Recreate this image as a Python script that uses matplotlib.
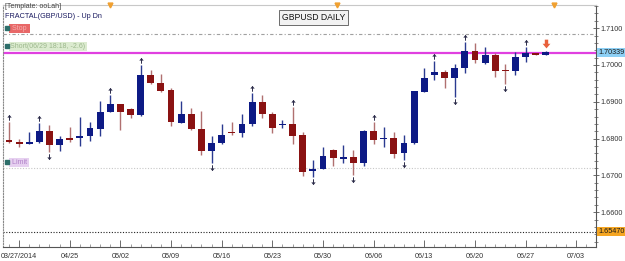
import numpy as np
import matplotlib.pyplot as plt
import matplotlib.transforms as mtransforms
from matplotlib.path import Path
from matplotlib.ticker import MultipleLocator, FixedLocator

# daily GBP/USD candles
opens = [1.6796, 1.6792, 1.6785, 1.6790, 1.6821, 1.6783, 1.6802, 1.6802, 1.6807, 1.6826,
         1.6872, 1.6893, 1.6880, 1.6864, 1.6973, 1.6950, 1.6932, 1.6843, 1.6867, 1.6825,
         1.6767, 1.6787, 1.6817, 1.6814, 1.6839, 1.6899, 1.6867, 1.6837, 1.6840, 1.6810,
         1.6711, 1.6717, 1.6769, 1.6745, 1.6749, 1.6735, 1.6821, 1.6800, 1.6801, 1.6760,
         1.6787, 1.6927, 1.6972, 1.6982, 1.6964, 1.6991, 1.7038, 1.7005, 1.7027, 1.6985,
         1.6984, 1.7023, 1.7032, 1.7027]
highs = [1.6846, 1.6799, 1.6819, 1.6842, 1.6837, 1.6807, 1.6832, 1.6858, 1.6846, 1.6903,
         1.6918, 1.6895, 1.6884, 1.7000, 1.6986, 1.6976, 1.6937, 1.6903, 1.6882, 1.6875,
         1.6807, 1.6840, 1.6844, 1.6866, 1.6923, 1.6918, 1.6873, 1.6851, 1.6887, 1.6819,
         1.6742, 1.6778, 1.6771, 1.6783, 1.6769, 1.6823, 1.6846, 1.6831, 1.6817, 1.6810,
         1.6930, 1.6991, 1.7012, 1.6986, 1.7003, 1.7063, 1.7059, 1.7050, 1.7032, 1.7003,
         1.7036, 1.7050, 1.7033, 1.7037]
lows = [1.6789, 1.6777, 1.6784, 1.6789, 1.6764, 1.6767, 1.6792, 1.6780, 1.6794, 1.6808,
        1.6871, 1.6823, 1.6855, 1.6861, 1.6947, 1.6926, 1.6835, 1.6842, 1.6823, 1.6755,
        1.6733, 1.6786, 1.6810, 1.6804, 1.6834, 1.6855, 1.6814, 1.6828, 1.6785, 1.6699,
        1.6696, 1.6716, 1.6726, 1.6733, 1.6701, 1.6726, 1.6785, 1.6778, 1.6746, 1.6742,
        1.6786, 1.6926, 1.6959, 1.6938, 1.6912, 1.6977, 1.7005, 1.7004, 1.6967, 1.6948,
        1.6973, 1.7009, 1.7026, 1.7026]
closes = [1.6792, 1.6786, 1.6791, 1.6821, 1.6783, 1.6800, 1.6796, 1.6807, 1.6828, 1.6873,
          1.6894, 1.6871, 1.6863, 1.6973, 1.6950, 1.6930, 1.6846, 1.6867, 1.6825, 1.6767,
          1.6787, 1.6809, 1.6814, 1.6840, 1.6899, 1.6866, 1.6828, 1.6840, 1.6808, 1.6710,
          1.6718, 1.6754, 1.6746, 1.6749, 1.6735, 1.6821, 1.6796, 1.6801, 1.6758, 1.6787,
          1.6929, 1.6964, 1.6982, 1.6964, 1.6991, 1.7038, 1.7014, 1.7027, 1.6985, 1.6984,
          1.7023, 1.7032, 1.7027, 1.7036]

up_fractals = [0, 3, 10, 13, 24, 28, 36, 42, 45, 51]
down_fractals = [4, 20, 30, 34, 39, 44, 49]
signal_bar = 53
top_markers = [10, 32.4, 53.8]

date_ticks = [1, 6, 11, 16, 21, 26, 31, 36, 41, 46, 51, 56]
date_labels = ["03/27/2014", "04/25", "05/02", "05/09", "05/16", "05/23",
               "05/30", "06/06", "06/13", "06/20", "06/27", "07/03"]
price_ticks = [1.66, 1.67, 1.68, 1.69, 1.70, 1.71]

stop_level = 1.7084
entry_level = 1.70339
limit_level = 1.6719
low_level = 1.65470

BLUE = '#0d1a85'
RED = '#8a1212'

plt.rcParams['font.family'] = ['Liberation Sans', 'DejaVu Sans']

fig = plt.figure(figsize=(6.25, 2.61), dpi=100)
ax = fig.add_axes([3 / 625, 14 / 261, 593 / 625, 242 / 261])

x = np.arange(len(opens))
o = np.array(opens)
c = np.array(closes)
up = c >= o
body_col = np.where(up, BLUE, RED)
wick_col = np.where(up, '#2a3a90', '#b07070')

ax.vlines(x, lows, highs, colors=wick_col, lw=1, zorder=2)
bottoms = np.minimum(o, c)
heights = np.maximum(np.abs(c - o), 0.00028)
ax.bar(x, heights, bottom=bottoms, width=0.68, color=body_col, lw=0, zorder=3)

# fractal arrows: a caret with a short stem
M, L = Path.MOVETO, Path.LINETO
up_arrow = Path([(-0.6, 0.3), (0, 1), (0.6, 0.3), (0, 1), (0, -0.8)], [M, L, L, M, L])
dn_arrow = Path([(-0.6, -0.3), (0, -1), (0.6, -0.3), (0, -1), (0, 0.8)], [M, L, L, M, L])
up_tr = mtransforms.offset_copy(ax.transData, fig=fig, x=0, y=4, units='dots')
dn_tr = mtransforms.offset_copy(ax.transData, fig=fig, x=0, y=-4, units='dots')
ax.plot(up_fractals, [highs[i] for i in up_fractals], ls='none', marker=up_arrow,
        ms=4, mew=0.7, mfc='none', mec='#2a2a48', transform=up_tr, zorder=4)
ax.plot(down_fractals, [lows[i] for i in down_fractals], ls='none', marker=dn_arrow,
        ms=4, mew=0.7, mfc='none', mec='#2a2a48', transform=dn_tr, zorder=4)

sig_arrow = Path([(-0.35, 1), (0.35, 1), (0.35, 0.15), (0.8, 0.15), (0, -0.8),
                  (-0.8, 0.15), (-0.35, 0.15), (-0.35, 1)])
sig_tr = mtransforms.offset_copy(ax.transData, fig=fig, x=0, y=7, units='dots')
ax.plot([signal_bar], [highs[signal_bar]], ls='none', marker=sig_arrow,
        ms=7, mew=0, color='#e8603c', transform=sig_tr, zorder=4)

# small markers on the top edge
xtr = mtransforms.blended_transform_factory(ax.transData, ax.transAxes)
ax.plot(top_markers, [1.0] * len(top_markers), ls='none', marker='v', ms=3.5,
        color='#f0a030', transform=xtr, clip_on=False, zorder=5)

# order levels
ax.axhline(stop_level, color='#a0a0a0', lw=0.8, ls=(0, (3, 2, 1, 2)), zorder=1)
ax.axhline(entry_level, color='#e040e0', lw=1.6, zorder=1)
ax.axhline(limit_level, color='#c8c8c8', lw=0.8, ls=(0, (1, 1.5)), zorder=1)
ax.axhline(low_level, color='#222222', lw=0.8, ls=(0, (1, 1.5)), zorder=1)

ax.set_xlim(-0.59, 57.95)
ax.set_ylim(1.65054, 1.71630)

ax.yaxis.tick_right()
ax.set_yticks(price_ticks)
ax.set_yticklabels(['%.4f' % p for p in price_ticks])
ax.yaxis.set_minor_locator(MultipleLocator(0.002))
ax.tick_params(axis='y', which='major', direction='inout', length=5, width=0.6,
               labelsize=5.2, labelcolor='#333333', color='#555555', pad=1)
ax.tick_params(axis='y', which='minor', direction='inout', length=3, width=0.5, color='#555555')

ax.xaxis.set_major_locator(FixedLocator(date_ticks))
ax.set_xticklabels(date_labels)
ax.xaxis.set_minor_locator(MultipleLocator(1))
ax.tick_params(axis='x', which='major', direction='in', length=5, width=0.6,
               labelsize=5.2, labelcolor='#333333', color='#555555', pad=4)
ax.tick_params(axis='x', which='minor', direction='in', length=2.5, width=0.5, color='#777777')

for side in ['bottom', 'right']:
    ax.spines[side].set_color('#555555')
    ax.spines[side].set_linewidth(0.8)
ax.spines['left'].set_color('#888888')
ax.spines['left'].set_linestyle((0, (1, 1.5)))
ax.spines['top'].set_color('#c8c8c8')

# right-axis price tags
ytr = mtransforms.blended_transform_factory(ax.transAxes, ax.transData)
ax.text(1.004, entry_level, '%.5f' % entry_level, transform=ytr, fontsize=5.2, va='center',
        ha='left', color='#1a1a1a', bbox=dict(boxstyle='square,pad=0.15', fc='#8dd0f5', ec='none'),
        clip_on=False)
ax.text(1.004, low_level, '%.5f' % low_level, transform=ytr, fontsize=5.2, va='center',
        ha='left', color='#1a1a1a', bbox=dict(boxstyle='square,pad=0.15', fc='#f5a623', ec='none'),
        clip_on=False)


# order labels on the left
def order_label(level, text, fc, tc):
    ax.annotate(text, xy=(0.0125, level), xycoords=ytr, xytext=(0, 1.6), textcoords='offset points',
                fontsize=5, color=tc, va='bottom', ha='left',
                bbox=dict(boxstyle='square,pad=0.15', fc=fc, ec='none'))
    ax.plot([0.0062], [level], transform=mtransforms.offset_copy(ytr, fig=fig, x=0, y=6.5, units='dots'),
            marker='s', ms=3.2, color='#2d6e6a', ls='none', clip_on=False, zorder=5)


order_label(stop_level, ' Stop ', '#e86868', '#f6b0b0')
order_label(entry_level, 'Short(06/29 18:18, -2.6)', '#dcebd0', '#9cb88c')
order_label(limit_level, ' Limit', '#e6d0f0', '#b080c8')

ax.text(0.004, 1.008, '[Template: ooLah]', transform=ax.transAxes, fontsize=5,
        color='#404040', va='top', ha='left')
ax.text(0.004, 0.967, 'FRACTAL(GBP/USD) - Up Dn', transform=ax.transAxes, fontsize=5.2,
        color='#1a1a60', va='top', ha='left')
ax.text(0.523, 0.948, 'GBPUSD DAILY', transform=ax.transAxes, fontsize=6.2, color='#111111',
        va='center', ha='center',
        bbox=dict(boxstyle='square,pad=0.35', fc='#f2f2f2', ec='#555555', lw=0.6))

fig.savefig('out.png', dpi=100)
